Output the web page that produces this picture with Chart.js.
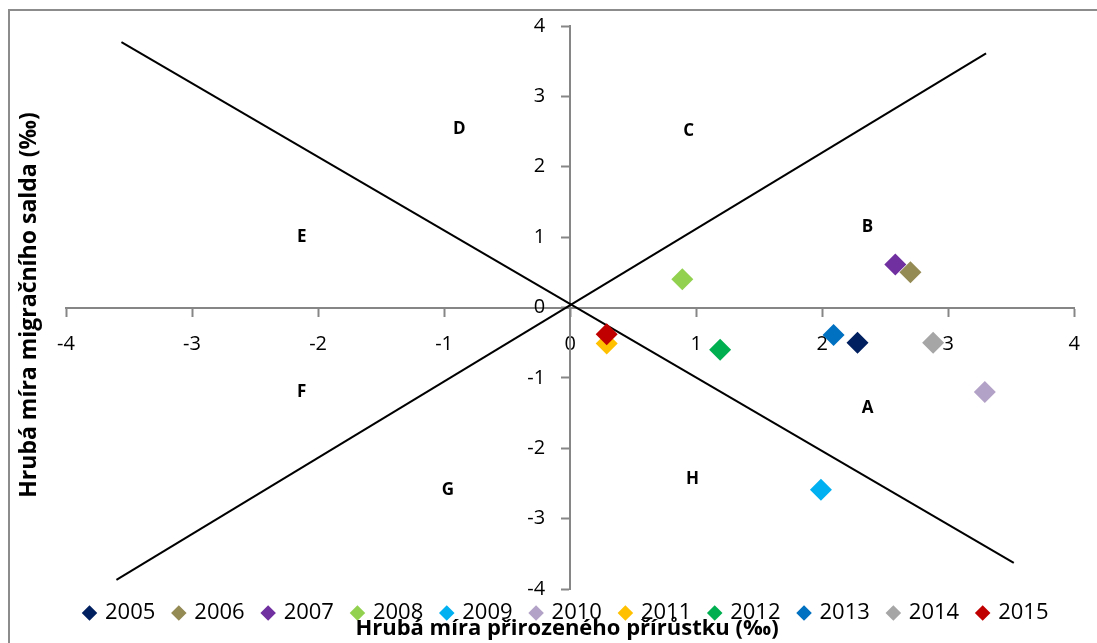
<!DOCTYPE html>
<html>
<head>
<meta charset="utf-8">
<script src="https://cdn.jsdelivr.net/npm/chart.js@4.4.1/dist/chart.umd.min.js"></script>
<style>
  html, body { margin: 0; padding: 0; background: #ffffff; }
  #wrap { width: 1097px; height: 643px; }
</style>
</head>
<body>
<div id="wrap"><canvas id="chart" width="1097" height="643"></canvas></div>
<script>
// Roky a hodnoty (‰): hrubá míra přirozeného přírůstku (x) a migračního salda (y)
const years = ['2005', '2006', '2007', '2008', '2009', '2010', '2011', '2012', '2013', '2014', '2015'];
const naturalIncrease = [2.28, 2.70, 2.58, 0.89, 1.99, 3.29, 0.29, 1.19, 2.09, 2.88, 0.29];
const netMigration    = [-0.50, 0.50, 0.61, 0.40, -2.59, -1.20, -0.51, -0.60, -0.39, -0.50, -0.38];
const yearColors = ['#002060', '#948A54', '#7030A0', '#92D050', '#00B0F0', '#B3A2C7',
                    '#FFC000', '#00B050', '#0070C0', '#A6A6A6', '#C00000'];

// Dělicí přímky typologie
const fallingLineX = [-3.56, 3.52];
const fallingLineY = [3.77, -3.63];
const risingLineX  = [-3.60, 3.30];
const risingLineY  = [-3.87, 3.61];

// Označení oblastí A–H
const regionNames = ['A', 'B', 'C', 'D', 'E', 'F', 'G', 'H'];
const regionX = [2.36, 2.36, 0.94, -0.88, -2.13, -2.13, -0.97, 0.97];
const regionY = [-1.43, 1.14, 2.50, 2.53, 1.00, -1.21, -2.59, -2.44];

// Osy
const axisMin = -4;
const axisMax = 4;
const axisStep = 1;

const xTitle = 'Hrubá míra přirozeného přírůstku (‰)';
const yTitle = 'Hrubá míra migračního salda (‰)';

const FONT = "'Open Sans', Lato, 'Liberation Sans', sans-serif";
const AXIS_GREY = '#868686';

function toPoints(xs, ys) {
  return xs.map((x, i) => ({ x: x, y: ys[i] }));
}

const yearDatasets = years.map((yr, i) => ({
  label: yr,
  data: [{ x: naturalIncrease[i], y: netMigration[i] }],
  backgroundColor: yearColors[i],
  borderColor: yearColors[i],
  borderWidth: 0,
  pointStyle: 'rectRot',
  pointRadius: 11,
  pointHoverRadius: 11,
  showLine: false,
  order: years.length - i
}));

const lineDataset = (name, xs, ys) => ({
  label: name,
  data: toPoints(xs, ys),
  showLine: true,
  borderColor: '#000000',
  backgroundColor: '#000000',
  borderWidth: 2,
  pointRadius: 0,
  pointHoverRadius: 0,
  fill: false,
  order: 100
});

// Rámeček kolem celého grafu
const framePlugin = {
  id: 'frame',
  beforeDraw(chart) {
    const ctx = chart.ctx;
    ctx.save();
    ctx.fillStyle = '#ffffff';
    ctx.fillRect(0, 0, chart.width, chart.height);
    ctx.strokeStyle = '#8c8c8c';
    ctx.lineWidth = 2;
    ctx.strokeRect(9, 10, chart.width + 10, chart.height + 10);
    ctx.restore();
  }
};

// Legenda těsně pod osou x (mírně přesahuje do spodního okraje grafu)
const legendShiftPlugin = {
  id: 'legendShift',
  afterLayout(chart) {
    const lg = chart.legend;
    if (lg) {
      lg.top -= 6;
      lg.bottom -= 6;
    }
  }
};

// Popisky svislé osy vlevo od značek
const yTickLabelsPlugin = {
  id: 'yTickLabels',
  afterDraw(chart) {
    const ctx = chart.ctx;
    const xs = chart.scales.x, ys = chart.scales.y;
    const x0 = xs.getPixelForValue(0);
    ctx.save();
    ctx.fillStyle = '#000000';
    ctx.font = '20px ' + FONT;
    ctx.textAlign = 'right';
    ctx.textBaseline = 'middle';
    ys.ticks.forEach((t) => {
      ctx.fillText(String(t.value), x0 - 25, ys.getPixelForValue(t.value));
    });
    ctx.restore();
  }
};

// Písmena oblastí a názvy os
const labelsPlugin = {
  id: 'regionLabels',
  afterDraw(chart) {
    const ctx = chart.ctx;
    const xs = chart.scales.x, ys = chart.scales.y;
    ctx.save();
    ctx.fillStyle = '#000000';
    ctx.textAlign = 'center';
    ctx.textBaseline = 'middle';
    ctx.font = 'bold 17px ' + FONT;
    regionNames.forEach((name, i) => {
      ctx.fillText(name, xs.getPixelForValue(regionX[i]), ys.getPixelForValue(regionY[i]));
    });

    ctx.font = 'bold 22px ' + FONT;
    ctx.fillText(xTitle, 567, 629);
    ctx.font = 'bold 23px ' + FONT;
    ctx.translate(29, 305);
    ctx.rotate(-Math.PI / 2);
    ctx.fillText(yTitle, 0, 0);
    ctx.restore();
  }
};

const commonScale = {
  type: 'linear',
  min: axisMin,
  max: axisMax,
  grid: {
    drawOnChartArea: false,
    drawTicks: true,
    tickLength: 8,
    tickColor: AXIS_GREY,
    tickWidth: 2
  },
  border: { display: true, color: AXIS_GREY, width: 2 },
  title: { display: false }
};

new Chart(document.getElementById('chart'), {
  type: 'scatter',
  data: {
    datasets: yearDatasets.concat([
      lineDataset('fallingLine', fallingLineX, fallingLineY),
      lineDataset('risingLine', risingLineX, risingLineY)
    ])
  },
  options: {
    responsive: false,
    animation: false,
    events: [],
    layout: { padding: { left: 66, right: 22, top: 26, bottom: 3 } },
    scales: {
      x: Object.assign({}, commonScale, {
        position: { y: 0 },
        afterFit(scale) { scale.height = 0; },
        ticks: { stepSize: axisStep, padding: 17, color: '#000000', font: { family: FONT, size: 20 } }
      }),
      y: Object.assign({}, commonScale, {
        position: { x: 0 },
        afterFit(scale) { scale.width = 0; },
        ticks: { stepSize: axisStep, display: false }
      })
    },
    plugins: {
      tooltip: { enabled: false },
      legend: {
        display: true,
        position: 'bottom',
        align: 'start',
        labels: {
          usePointStyle: true,
          pointStyle: 'rectRot',
          boxWidth: 9,
          boxHeight: 11,
          padding: 19,
          color: '#000000',
          font: { family: FONT, size: 22 },
          filter: (item) => item.datasetIndex < years.length,
          sort: (a, b) => a.datasetIndex - b.datasetIndex
        }
      }
    }
  },
  plugins: [framePlugin, legendShiftPlugin, yTickLabelsPlugin, labelsPlugin]
});
</script>
</body>
</html>
